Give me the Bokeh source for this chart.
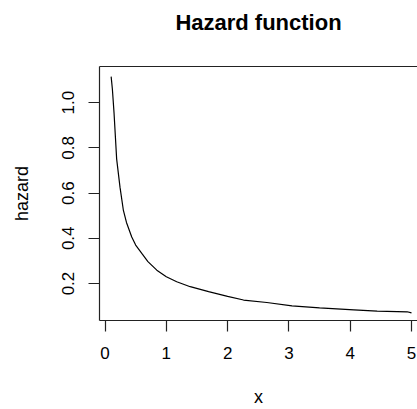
from bokeh.plotting import figure
from bokeh.models import FixedTicker, Range1d, PrintfTickFormatter, LinearAxis
from bokeh.embed import file_html
from bokeh.resources import INLINE

# values
x_vals = [0.10, 0.12, 0.147, 0.19, 0.245, 0.30, 0.35, 0.436, 0.50, 0.60, 0.70, 0.845,
          1.00, 1.17, 1.39, 1.69, 2.00, 2.26, 2.64, 3.05, 3.50, 4.06, 4.44, 4.93, 5.00]
hazard = [1.115, 1.06, 0.955, 0.75, 0.625, 0.523, 0.47, 0.406, 0.37, 0.333, 0.297, 0.259,
          0.23, 0.208, 0.186, 0.164, 0.143, 0.127, 0.116, 0.101, 0.092, 0.0835, 0.078, 0.075, 0.070]
x_ticks = [0, 1, 2, 3, 4, 5]
y_ticks = [0.2, 0.4, 0.6, 0.8, 1.0]
title_text = "Hazard function"
x_label = "x"
y_label = "hazard"

FONT = "Liberation Sans"
X_LO, X_HI = -0.09, 5.098
Y_LO, Y_HI = 0.0365, 1.1596

p = figure(width=417, height=409, output_backend="svg", toolbar_location=None,
           x_range=Range1d(X_LO, X_HI), y_range=Range1d(Y_LO, Y_HI),
           min_border_left=99, min_border_right=0, min_border_top=66, min_border_bottom=88,
           x_axis_label=x_label, y_axis_label=y_label)

p.xgrid.visible = False
p.ygrid.visible = False
p.outline_line_color = None
p.background_fill_color = "white"
p.border_fill_color = "white"

p.line(x_vals, hazard, line_color="black", line_width=1.2)

for ax in (p.xaxis[0], p.yaxis[0]):
    ax.axis_line_color = "#222222"
    ax.axis_line_width = 1.2
    ax.major_tick_line_color = "#222222"
    ax.major_tick_line_width = 1.2
    ax.major_tick_in = 0
    ax.major_tick_out = 11
    ax.minor_tick_line_color = None
    ax.major_label_text_font = FONT
    ax.major_label_text_font_size = "17px"
    ax.major_label_text_color = "black"
    ax.axis_label_text_font = FONT
    ax.axis_label_text_font_size = "18px"
    ax.axis_label_text_font_style = "normal"
    ax.axis_label_text_color = "black"

p.xaxis[0].ticker = FixedTicker(ticks=x_ticks)
p.yaxis[0].ticker = FixedTicker(ticks=y_ticks)
p.yaxis[0].formatter = PrintfTickFormatter(format="%.1f")
p.xaxis[0].major_label_standoff = 15
p.xaxis[0].axis_label_standoff = 25
p.yaxis[0].major_label_standoff = 14
p.yaxis[0].major_label_orientation = "vertical"
p.yaxis[0].axis_label_standoff = 28

# top border of the box, carrying the chart title as its label
top = LinearAxis(ticker=FixedTicker(ticks=[]),
                 axis_line_color="#222222", axis_line_width=1.2,
                 major_tick_in=0, major_tick_out=0, major_label_standoff=0,
                 major_label_text_font_size="1px",
                 minor_tick_line_color=None, major_tick_line_color=None,
                 axis_label=title_text, axis_label_standoff=32,
                 axis_label_text_font=FONT, axis_label_text_font_size="22px",
                 axis_label_text_font_style="bold", axis_label_text_color="black")
p.add_layout(top, "above")

open("out.html", "w").write(file_html(p, INLINE))
